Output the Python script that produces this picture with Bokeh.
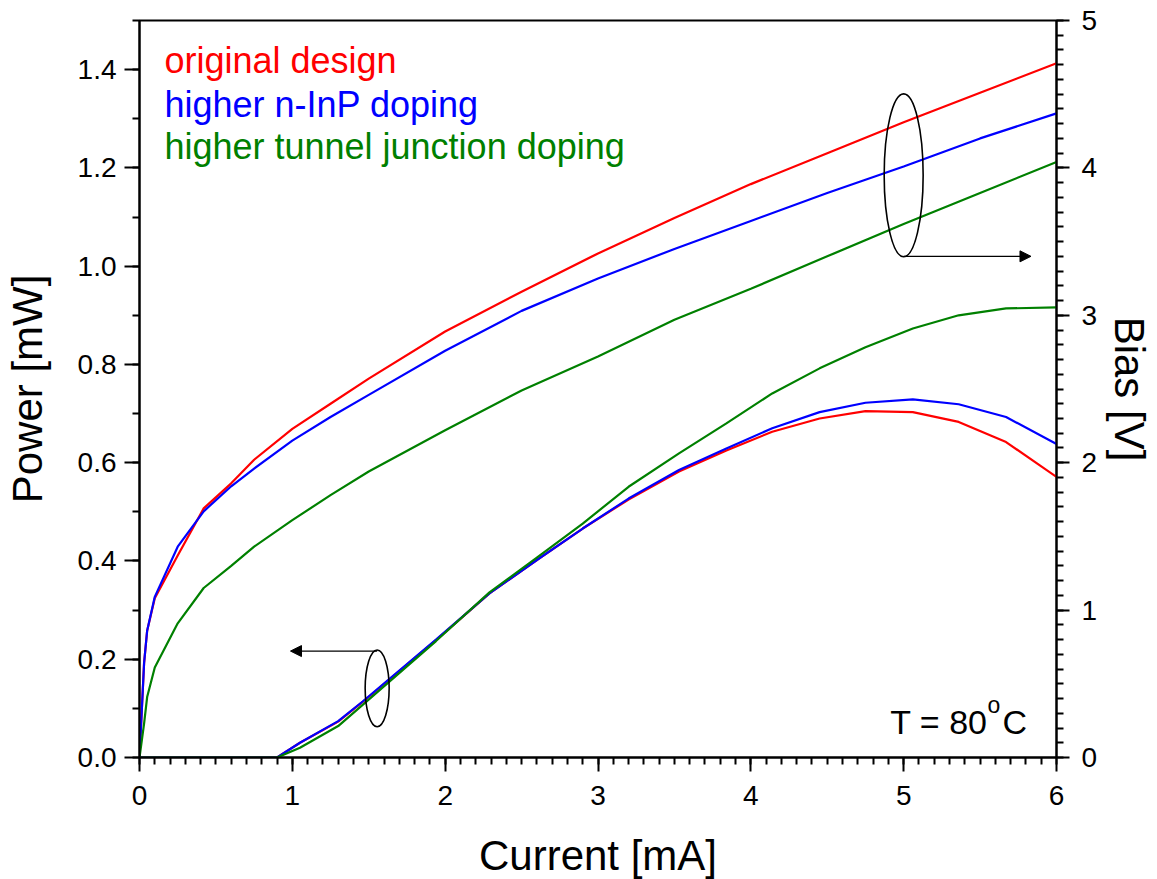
from bokeh.plotting import figure
from bokeh.models import (Range1d, LinearAxis, FixedTicker, PrintfTickFormatter,
                          Label, Arrow, NormalHead)
from bokeh.embed import file_html
from bokeh.resources import INLINE

# ---------------- data ----------------
# Bias (right axis, V) vs current (mA)
current_bias = [0.0, 0.03, 0.05, 0.1, 0.25, 0.42, 0.6, 0.75, 1.0, 1.25, 1.5,
                2.0, 2.5, 3.0, 3.5, 4.0, 4.5, 5.0, 5.5, 6.0]
bias_original = [0.0, 0.64, 0.86, 1.08, 1.37, 1.69, 1.86, 2.02, 2.23, 2.40, 2.57,
                 2.89, 3.16, 3.42, 3.66, 3.89, 4.10, 4.31, 4.51, 4.71]
bias_ninp = [0.0, 0.64, 0.86, 1.09, 1.43, 1.67, 1.84, 1.96, 2.15, 2.31, 2.46,
             2.76, 3.03, 3.25, 3.45, 3.64, 3.83, 4.01, 4.20, 4.37]
bias_tunnel = [0.0, 0.23, 0.41, 0.61, 0.91, 1.15, 1.30, 1.43, 1.61, 1.78, 1.94,
               2.22, 2.49, 2.72, 2.97, 3.18, 3.40, 3.62, 3.83, 4.04]

# Optical power (left axis, mW) vs current (mA)
current_power = [0.0, 0.9, 1.05, 1.3, 1.46, 1.94, 2.29, 2.6, 2.9, 3.2, 3.53,
                 3.84, 4.14, 4.45, 4.75, 5.06, 5.36, 5.67, 6.0]
power_original = [0.0, 0.0, 0.03, 0.073, 0.113, 0.239, 0.334, 0.402, 0.466, 0.525,
                  0.582, 0.625, 0.663, 0.690, 0.705, 0.703, 0.683, 0.642, 0.571]
power_ninp = [0.0, 0.0, 0.03, 0.074, 0.114, 0.240, 0.334, 0.402, 0.466, 0.527,
              0.585, 0.629, 0.670, 0.703, 0.722, 0.729, 0.719, 0.693, 0.638]
power_tunnel = [0.0, 0.0, 0.02, 0.064, 0.107, 0.237, 0.336, 0.407, 0.476, 0.551,
                0.619, 0.680, 0.741, 0.792, 0.835, 0.873, 0.900, 0.914, 0.916]

series_names = ["original design", "higher n-InP doping", "higher tunnel junction doping"]
series_colors = ["#FF0000", "#0000FF", "#008000"]

left_ticks = [0.0, 0.2, 0.4, 0.6, 0.8, 1.0, 1.2, 1.4]
right_ticks = [0, 1, 2, 3, 4, 5]
bottom_ticks = [0, 1, 2, 3, 4, 5, 6]

FONT = "Liberation Sans"

# ---------------- figure ----------------
p = figure(frame_width=917, frame_height=737,
           min_border_left=133, min_border_right=95,
           min_border_top=20, min_border_bottom=114,
           x_range=Range1d(0, 6), y_range=Range1d(0, 1.5),
           output_backend="svg", toolbar_location=None,
           background_fill_color="white", border_fill_color="white")
p.extra_y_ranges = {"bias": Range1d(0, 5)}
p.xgrid.visible = False
p.ygrid.visible = False
p.outline_line_color = "black"
p.outline_line_width = 2
p.outline_line_alpha = 1.0

def style_axis(ax, label, label_standoff, title_standoff, major_out):
    ax.axis_label = label
    ax.axis_label_text_font = FONT
    ax.axis_label_text_font_style = "normal"
    ax.axis_label_text_font_size = "42px"
    ax.axis_label_text_color = "black"
    ax.axis_label_standoff = title_standoff
    ax.major_label_text_font = FONT
    ax.major_label_text_font_size = "28px"
    ax.major_label_text_color = "black"
    ax.major_label_standoff = label_standoff
    ax.axis_line_width = 2
    ax.axis_line_color = "black"
    ax.major_tick_line_width = 2
    ax.minor_tick_line_width = 2
    ax.major_tick_line_color = "black"
    ax.minor_tick_line_color = "black"
    ax.major_tick_in = 0
    ax.major_tick_out = major_out
    ax.minor_tick_in = 0
    ax.minor_tick_out = 7

# bottom axis
xa = p.xaxis[0]
xa.ticker = FixedTicker(ticks=bottom_ticks,
                        minor_ticks=[i / 10 for i in range(0, 61)])
xa.formatter = PrintfTickFormatter(format="%d")
style_axis(xa, "Current [mA]", 14, 24, 14)

# left axis
ya = p.yaxis[0]
ya.ticker = FixedTicker(ticks=left_ticks,
                        minor_ticks=[i / 10 for i in range(0, 16)])
ya.formatter = PrintfTickFormatter(format="%.1f")
style_axis(ya, "Power [mW]", 8, 24, 15)

# right axis
ra = LinearAxis(y_range_name="bias")
ra.ticker = FixedTicker(ticks=right_ticks,
                        minor_ticks=[i / 10 for i in range(0, 51)])
ra.formatter = PrintfTickFormatter(format="%d")
style_axis(ra, "Bias [V]", 12, 6, 13)
p.add_layout(ra, "right")

# ---------------- curves ----------------
bias_sets = [bias_original, bias_ninp, bias_tunnel]
power_sets = [power_original, power_ninp, power_tunnel]
for vals, col in zip(bias_sets, series_colors):
    p.line(current_bias, vals, line_color=col, line_width=2.2, y_range_name="bias")
for vals, col in zip(power_sets, series_colors):
    p.line(current_power, vals, line_color=col, line_width=2.2)

# ---------------- legend text ----------------
legend_y = [1.418, 1.330, 1.244]
for name, col, yy in zip(series_names, series_colors, legend_y):
    p.add_layout(Label(x=0.163, y=yy, text=name, text_color=col,
                       text_font=FONT, text_font_size="36px",
                       text_baseline="alphabetic", text_align="left"))

# temperature label
p.add_layout(Label(x=5.549, y=0.072, text="T = 80", text_color="black",
                   text_font=FONT, text_font_size="34px",
                   text_baseline="alphabetic", text_align="right"))
p.add_layout(Label(x=5.549, y=0.107, text="o", text_color="black",
                   text_font=FONT, text_font_size="23px",
                   text_baseline="alphabetic", text_align="left"))
p.add_layout(Label(x=5.647, y=0.072, text="C", text_color="black",
                   text_font=FONT, text_font_size="34px",
                   text_baseline="alphabetic", text_align="left"))

# ---------------- ellipse + arrow markers ----------------
p.ellipse(x=[1.555], y=[0.1407], width=[0.157], height=[0.1566],
          fill_color=None, line_color="black", line_width=1.6)
p.add_layout(Arrow(x_start=1.555, y_start=0.2166, x_end=0.988, y_end=0.2166,
                   line_color="black", line_width=1.4,
                   end=NormalHead(size=11, fill_color="black", line_color="black")))

p.ellipse(x=[5.0], y=[3.95], width=[0.255], height=[1.105],
          fill_color=None, line_color="black", line_width=1.6, y_range_name="bias")
p.add_layout(Arrow(x_start=5.0, y_start=3.40, x_end=5.833, y_end=3.40,
                   y_range_name="bias",
                   line_color="black", line_width=1.4,
                   end=NormalHead(size=11, fill_color="black", line_color="black")))

open("out.html", "w").write(file_html(p, INLINE))
